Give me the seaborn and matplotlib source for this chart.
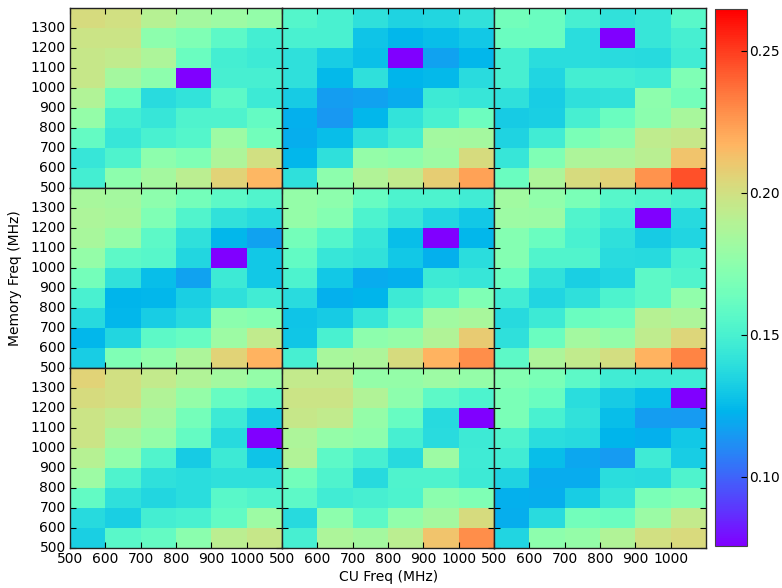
import numpy as np
import pandas as pd
import matplotlib
matplotlib.use("Agg")
from matplotlib import pyplot as plt
import seaborn as sns

# axis values
cu_freq = [500, 600, 700, 800, 900, 1000]
mem_freq = [1300, 1200, 1100, 1000, 900, 800, 700, 600, 500]  # top row first

LOW = 0.0756  # the purple cell in every panel

# values, rows 1300 -> 500, columns 500 -> 1000
panel_1 = [
    [0.202, 0.200, 0.190, 0.184, 0.181, 0.177],
    [0.198, 0.198, 0.175, 0.170, 0.157, 0.148],
    [0.196, 0.194, 0.187, 0.162, 0.148, 0.145],
    [0.196, 0.184, 0.175, LOW, 0.149, 0.149],
    [0.188, 0.162, 0.138, 0.142, 0.157, 0.145],
    [0.178, 0.148, 0.143, 0.152, 0.152, 0.160],
    [0.160, 0.143, 0.150, 0.154, 0.181, 0.165],
    [0.143, 0.152, 0.175, 0.170, 0.187, 0.200],
    [0.148, 0.175, 0.184, 0.192, 0.206, 0.216],
]
panel_2 = [
    [0.154, 0.150, 0.140, 0.134, 0.136, 0.141],
    [0.150, 0.150, 0.128, 0.124, 0.126, 0.130],
    [0.140, 0.132, 0.127, LOW, 0.117, 0.124],
    [0.140, 0.125, 0.140, 0.123, 0.125, 0.138],
    [0.131, 0.116, 0.117, 0.120, 0.145, 0.143],
    [0.122, 0.114, 0.124, 0.142, 0.150, 0.163],
    [0.121, 0.126, 0.140, 0.148, 0.183, 0.184],
    [0.124, 0.140, 0.178, 0.175, 0.181, 0.202],
    [0.140, 0.175, 0.188, 0.194, 0.208, 0.223],
]
panel_3 = [
    [0.165, 0.162, 0.149, 0.141, 0.143, 0.156],
    [0.162, 0.162, 0.139, LOW, 0.143, 0.149],
    [0.149, 0.139, 0.139, 0.138, 0.137, 0.147],
    [0.149, 0.135, 0.148, 0.148, 0.146, 0.170],
    [0.140, 0.132, 0.140, 0.141, 0.175, 0.166],
    [0.131, 0.133, 0.149, 0.162, 0.174, 0.185],
    [0.134, 0.147, 0.168, 0.174, 0.193, 0.196],
    [0.143, 0.170, 0.187, 0.187, 0.191, 0.212],
    [0.162, 0.187, 0.202, 0.206, 0.227, 0.245],
]
panel_4 = [
    [0.185, 0.184, 0.175, 0.166, 0.157, 0.153],
    [0.187, 0.185, 0.170, 0.153, 0.141, 0.137],
    [0.185, 0.178, 0.157, 0.140, 0.124, 0.117],
    [0.178, 0.157, 0.155, 0.136, LOW, 0.130],
    [0.166, 0.141, 0.126, 0.117, 0.145, 0.130],
    [0.150, 0.123, 0.124, 0.133, 0.140, 0.147],
    [0.137, 0.124, 0.132, 0.137, 0.174, 0.172],
    [0.124, 0.136, 0.157, 0.161, 0.181, 0.194],
    [0.132, 0.170, 0.176, 0.187, 0.206, 0.218],
]
panel_5 = [
    [0.178, 0.175, 0.161, 0.151, 0.151, 0.147],
    [0.178, 0.172, 0.151, 0.143, 0.135, 0.130],
    [0.166, 0.154, 0.143, 0.126, LOW, 0.124],
    [0.159, 0.143, 0.141, 0.130, 0.122, 0.139],
    [0.151, 0.130, 0.120, 0.122, 0.145, 0.143],
    [0.138, 0.122, 0.123, 0.145, 0.154, 0.170],
    [0.128, 0.131, 0.143, 0.157, 0.182, 0.185],
    [0.129, 0.150, 0.175, 0.178, 0.188, 0.209],
    [0.149, 0.185, 0.187, 0.202, 0.218, 0.229],
]
panel_6 = [
    [0.182, 0.176, 0.168, 0.155, 0.153, 0.149],
    [0.181, 0.180, 0.153, 0.146, LOW, 0.137],
    [0.172, 0.162, 0.150, 0.140, 0.131, 0.135],
    [0.172, 0.153, 0.153, 0.138, 0.137, 0.150],
    [0.162, 0.141, 0.133, 0.135, 0.157, 0.153],
    [0.147, 0.135, 0.140, 0.151, 0.157, 0.176],
    [0.137, 0.145, 0.162, 0.164, 0.190, 0.187],
    [0.140, 0.162, 0.183, 0.177, 0.193, 0.204],
    [0.157, 0.187, 0.194, 0.201, 0.218, 0.232],
]
panel_7 = [
    [0.206, 0.200, 0.195, 0.188, 0.183, 0.178],
    [0.202, 0.200, 0.188, 0.178, 0.161, 0.154],
    [0.198, 0.193, 0.184, 0.166, 0.145, 0.131],
    [0.198, 0.185, 0.178, 0.160, 0.137, LOW],
    [0.190, 0.176, 0.153, 0.131, 0.145, 0.128],
    [0.181, 0.152, 0.140, 0.139, 0.140, 0.140],
    [0.159, 0.140, 0.136, 0.139, 0.156, 0.153],
    [0.137, 0.133, 0.148, 0.150, 0.159, 0.181],
    [0.133, 0.156, 0.160, 0.174, 0.192, 0.196],
]
panel_8 = [
    [0.195, 0.195, 0.178, 0.178, 0.181, 0.178],
    [0.198, 0.198, 0.188, 0.175, 0.157, 0.151],
    [0.196, 0.194, 0.178, 0.161, 0.137, LOW],
    [0.187, 0.178, 0.175, 0.149, 0.138, 0.145],
    [0.188, 0.157, 0.149, 0.137, 0.181, 0.146],
    [0.165, 0.152, 0.137, 0.152, 0.152, 0.145],
    [0.157, 0.147, 0.149, 0.151, 0.174, 0.170],
    [0.137, 0.175, 0.157, 0.176, 0.184, 0.202],
    [0.149, 0.187, 0.184, 0.192, 0.212, 0.229],
]
panel_9 = [
    [0.172, 0.168, 0.157, 0.147, 0.145, 0.146],
    [0.168, 0.162, 0.139, 0.131, 0.126, LOW],
    [0.168, 0.150, 0.141, 0.126, 0.116, 0.115],
    [0.152, 0.139, 0.137, 0.123, 0.122, 0.130],
    [0.147, 0.126, 0.119, 0.115, 0.146, 0.132],
    [0.134, 0.120, 0.120, 0.139, 0.138, 0.152],
    [0.122, 0.121, 0.132, 0.143, 0.168, 0.171],
    [0.121, 0.138, 0.165, 0.162, 0.180, 0.195],
    [0.135, 0.175, 0.178, 0.188, 0.200, 0.203],
]
panels = [panel_1, panel_2, panel_3, panel_4, panel_5,
          panel_6, panel_7, panel_8, panel_9]

vmin, vmax = 0.0756, 0.2645
cbar_ticks = [0.10, 0.15, 0.20, 0.25]

plt.rcParams['font.size'] = 10

fig = plt.figure(figsize=(7.82, 5.88), dpi=100)
gs = fig.add_gridspec(3, 3, left=0.0895, right=0.903, bottom=0.068,
                      top=0.986, wspace=0, hspace=0)

for i, data in enumerate(panels):
    r, c = divmod(i, 3)
    ax = fig.add_subplot(gs[r, c])
    df = pd.DataFrame(data, index=mem_freq, columns=cu_freq)
    sns.heatmap(df, ax=ax, cmap='rainbow', vmin=vmin, vmax=vmax, cbar=False)
    ax.set_xlabel('')
    ax.set_ylabel('')
    # ticks on cell edges, like pcolor
    ax.set_xticks(np.arange(len(cu_freq)))
    ax.set_xticklabels(cu_freq if r == 2 else [], rotation=0)
    ax.set_yticks(np.arange(1, len(mem_freq) + 1))
    ax.set_yticklabels(mem_freq if c == 0 else [], rotation=0, va='center')
    ax.tick_params(direction='in', top=True, right=True, length=4,
                   width=0.8, color='black', labelsize=10, pad=3)
    for s in ax.spines.values():
        s.set_visible(True)
        s.set_color('#222222')
        s.set_linewidth(1.0)

mesh = ax.collections[0]
cax = fig.add_axes([0.9143, 0.071, 0.0405, 0.913])
cb = fig.colorbar(mesh, cax=cax, ticks=cbar_ticks)
cb.ax.set_yticklabels(['%.2f' % t for t in cbar_ticks])
cb.ax.tick_params(labelsize=10, length=4, width=0.8, direction='in', pad=2)
cb.outline.set_edgecolor('#444444')

fig.text(0.019, 0.527, 'Memory Freq (MHz)', rotation=90, ha='center', va='center', fontsize=10)
fig.text(0.497, 0.019, 'CU Freq (MHz)', ha='center', va='center', fontsize=10)

fig.savefig('out.png', dpi=100)
